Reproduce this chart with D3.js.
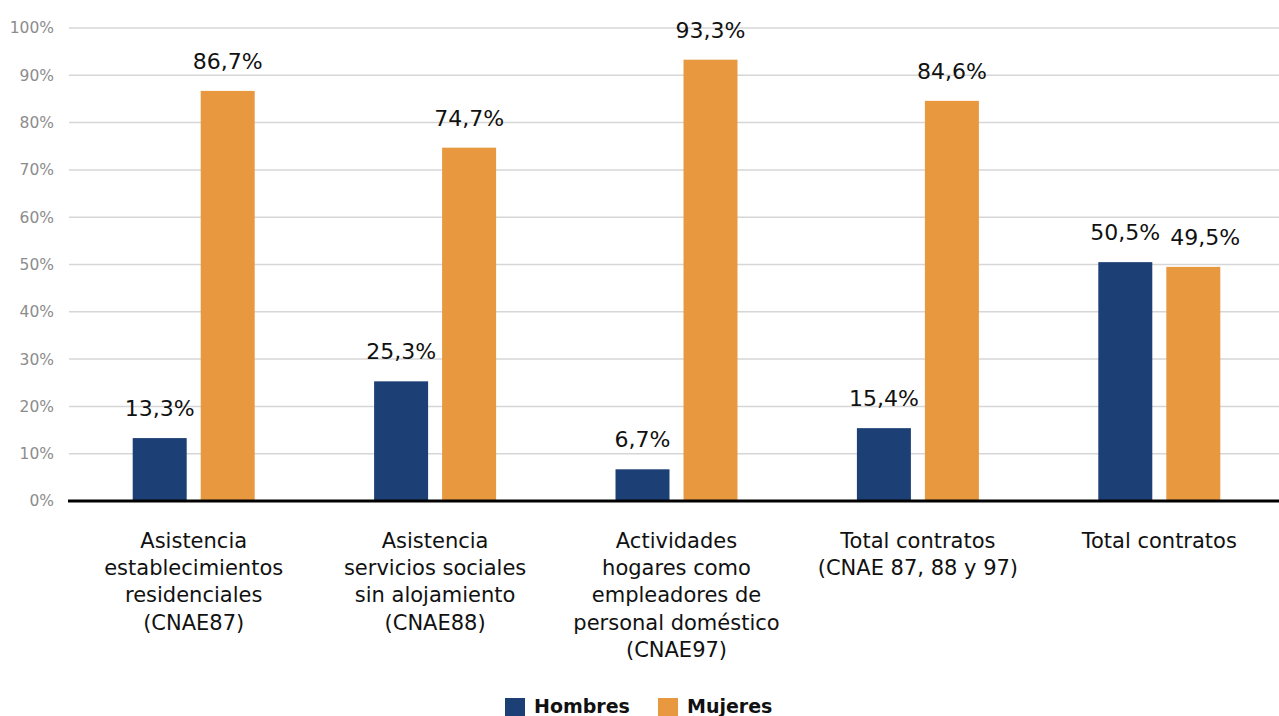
<!DOCTYPE html>
<html>
<head>
<meta charset="utf-8">
<script src="https://cdn.jsdelivr.net/npm/d3@7"></script>
<style>
  html, body { margin: 0; padding: 0; background: #fff; }
  svg { display: block; font-family: "DejaVu Sans", sans-serif; }
</style>
</head>
<body>
<svg id="chart" width="1279" height="716"></svg>
<script>
// Categories (each entry is a list of label lines)
const categories = [
  ["Asistencia", "establecimientos", "residenciales", "(CNAE87)"],
  ["Asistencia", "servicios sociales", "sin alojamiento", "(CNAE88)"],
  ["Actividades", "hogares como", "empleadores de", "personal doméstico", "(CNAE97)"],
  ["Total contratos", "(CNAE 87, 88 y 97)"],
  ["Total contratos"]
];
const seriesNames = ["Hombres", "Mujeres"];
const hombres = [13.3, 25.3, 6.7, 15.4, 50.5];
const mujeres = [86.7, 74.7, 93.3, 84.6, 49.5];
const yTicks = [0, 10, 20, 30, 40, 50, 60, 70, 80, 90, 100];
const colors = ["#1c3f75", "#e8983f"];

const svg = d3.select("#chart");
const plot = { left: 73, right: 1280, top: 28, bottom: 501 };

const x = d3.scaleBand()
  .domain(d3.range(categories.length))
  .range([plot.left, plot.right]);

const x1 = d3.scaleBand()
  .domain(seriesNames)
  .range([0, x.bandwidth()])
  .paddingInner(0.206)
  .paddingOuter(0.878);

const y = d3.scaleLinear().domain([0, 100]).range([plot.bottom, plot.top]);

const fmt = v => d3.format(".1f")(v).replace(".", ",") + "%";

// Gridlines
svg.append("g")
  .selectAll("line")
  .data(yTicks.filter(d => d > 0))
  .join("line")
  .attr("x1", 69).attr("x2", 1279)
  .attr("y1", d => y(d)).attr("y2", d => y(d))
  .attr("stroke", "#d6d6d6").attr("stroke-width", 1.5);

// Y axis labels
const yAxis = d3.axisLeft(y).tickValues(yTicks).tickSize(0).tickPadding(0)
  .tickFormat(d => d + "%");
const yg = svg.append("g").attr("transform", "translate(54,0)").call(yAxis);
yg.select(".domain").remove();
yg.selectAll("text")
  .attr("fill", "#8c8c8c")
  .style("font-size", "15.5px")
  .style("font-family", "'DejaVu Sans', sans-serif");

// Bars
const data = categories.map((c, i) => ({ i, values: [hombres[i], mujeres[i]] }));
const groups = svg.append("g").selectAll("g")
  .data(data)
  .join("g")
  .attr("transform", d => `translate(${x(d.i)},0)`);

groups.selectAll("rect")
  .data(d => d.values.map((v, k) => ({ k, v })))
  .join("rect")
  .attr("x", d => x1(seriesNames[d.k]))
  .attr("width", x1.bandwidth())
  .attr("y", d => y(d.v))
  .attr("height", d => y(0) - y(d.v))
  .attr("fill", d => colors[d.k]);

// Value labels; when the two labels of a group sit at nearly the same
// height, the second one is nudged right so they do not collide
groups.selectAll("text.val")
  .data(d => d.values.map((v, k) => ({ k, v, other: d.values[1 - k] })))
  .join("text")
  .attr("class", "val")
  .attr("x", d => {
    const cx = x1(seriesNames[d.k]) + x1.bandwidth() / 2;
    const close = Math.abs(y(d.v) - y(d.other)) < 20;
    return close && d.k === 1 ? cx + 12 : cx;
  })
  .attr("y", d => y(d.v) - 22)
  .attr("text-anchor", "middle")
  .attr("fill", "#111")
  .style("font-size", "22px")
  .text(d => fmt(d.v));

// Baseline
svg.append("line")
  .attr("x1", 68).attr("x2", 1279)
  .attr("y1", y(0)).attr("y2", y(0))
  .attr("stroke", "#000").attr("stroke-width", 3);

// Category labels
const catG = svg.append("g");
categories.forEach((lines, i) => {
  const t = catG.append("text")
    .attr("text-anchor", "middle")
    .attr("fill", "#111")
    .style("font-size", "21px");
  lines.forEach((ln, j) => {
    t.append("tspan")
      .attr("x", x(i) + x.bandwidth() / 2)
      .attr("y", 548 + j * 27.2)
      .text(ln);
  });
});

// Legend
const legend = svg.append("g");
const legendItems = [
  { name: "Hombres", x: 505 },
  { name: "Mujeres", x: 658 }
];
legendItems.forEach((it, k) => {
  legend.append("rect")
    .attr("x", it.x).attr("y", 698)
    .attr("width", 20).attr("height", 20)
    .attr("fill", colors[k]);
  legend.append("text")
    .attr("x", it.x + 29).attr("y", 713)
    .attr("fill", "#111")
    .style("font-size", "19px")
    .style("font-weight", "bold")
    .text(it.name);
});
</script>
</body>
</html>
